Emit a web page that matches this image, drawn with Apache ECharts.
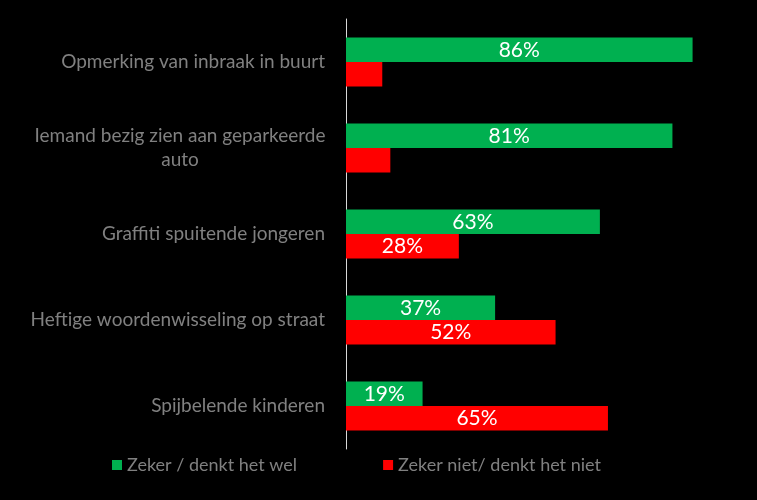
<!DOCTYPE html>
<html><head><meta charset="utf-8">
<script src="https://cdn.jsdelivr.net/npm/echarts@6/dist/echarts.min.js"></script>
<style>html,body{margin:0;padding:0;background:#000;}#c{width:757px;height:500px;}</style>
</head><body><div id="c"></div>
<script>
const categories = ['Opmerking van inbraak in buurt','Iemand bezig zien aan geparkeerde\nauto','Graffiti spuitende jongeren','Heftige woordenwisseling op straat','Spijbelende kinderen'];
const seriesNames = ['Zeker / denkt het wel','Zeker niet/ denkt het niet'];
const welValues = [86,81,63,37,19];
const nietValues = [9,11,28,52,65];
const FONT = 'Lato, "Open Sans", sans-serif';
const chart = echarts.init(document.getElementById('c'));
const lbl = {show:true, position:'inside', color:'#fff', fontSize:21, fontFamily:FONT,
  formatter:p => p.value >= 15 ? p.value + '%' : ''};
chart.setOption({
  backgroundColor:'#000',
  animation:false,
  grid:{left:346, right:8, top:19, bottom:51},
  xAxis:{type:'value', min:0, max:100, show:false},
  yAxis:{type:'category', inverse:true, data:categories,
    axisLine:{show:true, lineStyle:{color:'#d9d9d9', width:1}},
    axisTick:{show:false},
    axisLabel:{margin:21, color:'#808080', fontSize:19, fontFamily:FONT,
      formatter: v => v.indexOf('\n') >= 0 ? v.split('\n').map(s => '{c|' + s + '}').join('\n') : v,
      rich:{c:{width:290, align:'center', color:'#808080', fontSize:19, fontFamily:FONT, lineHeight:24}}}
  },
  legend:{bottom:26, left:112, padding:0, itemWidth:10, itemHeight:10, itemGap:86, icon:'rect',
    textStyle:{color:'#808080', fontSize:18, fontFamily:FONT}, data:seriesNames},
  series:[
    {name:seriesNames[0], type:'bar', data:welValues, itemStyle:{color:'#00B050'}, barGap:'0%', barCategoryGap:'43%', label:lbl},
    {name:seriesNames[1], type:'bar', data:nietValues, itemStyle:{color:'#FF0000'}, barGap:'0%', barCategoryGap:'43%', label:lbl}
  ]
});
</script></body></html>
